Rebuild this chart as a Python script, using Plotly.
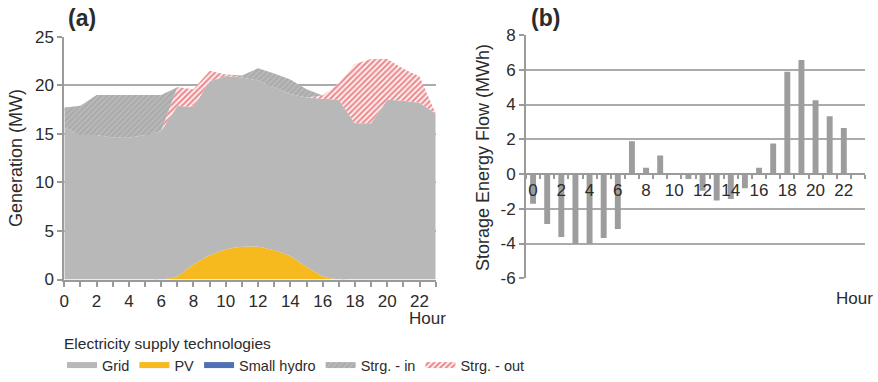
import plotly.graph_objects as go

# ---------------- data ----------------
hours = list(range(24))

# Panel (a): stacked generation (MW)
pv = [0, 0, 0, 0, 0, 0, 0, 0.34, 1.55, 2.5, 3.1, 3.37,
      3.37, 3.0, 2.4, 1.3, 0.34, 0, 0, 0, 0, 0, 0, 0]
grid = [15.66, 14.87, 14.87, 14.6, 14.6, 14.87, 15.3, 17.52, 16.25, 17.9, 17.85, 17.43,
        17.13, 16.8, 16.7, 17.45, 18.26, 18.5, 16.1, 16.1, 18.5, 18.4, 18.2, 17.1]
small_hydro = [0] * 24
strg_in = [2.04, 3.03, 4.13, 4.4, 4.4, 4.13, 3.7, 0, 0, 0, 0, 0.2,
           1.25, 1.4, 1.5, 0.85, 0, 0, 0, 0, 0, 0, 0, 0]
strg_out = [0, 0, 0, 0, 0, 0, 0, 1.94, 1.8, 1.1, 0.15, 0,
            0, 0, 0, 0, 0.35, 1.7, 6.1, 6.6, 4.2, 3.3, 2.7, 0]

# Panel (b): storage energy flow (MWh)
flow = [-1.71, -2.88, -3.62, -4.03, -4.03, -3.68, -3.16, 1.88, 0.36, 1.07, 0, -0.29,
        -0.96, -1.53, -1.44, -0.82, 0.36, 1.75, 5.89, 6.56, 4.24, 3.32, 2.65, 0]

xa_ticks = [0, 2, 4, 6, 8, 10, 12, 14, 16, 18, 20, 22]
ya_ticks = [0, 5, 10, 15, 20, 25]
yb_ticks = [-6, -4, -2, 0, 2, 4, 6, 8]
yb_labels = ["-6", "-4", "-2", "0", "2", "4", "6", "8"]

# ---------------- style ----------------
FONT = "Liberation Sans, Arial, sans-serif"
TXT = "#2b2b2b"
AX = "#9a9a9a"
GRIDC = "#ababab"
C_GRID = "#b8b8b8"
C_PV = "#f6ba1e"
C_HYDRO = "#4f70b6"
C_BAR = "#9d9d9d"
TICK_FS = 17

fig = go.Figure()

fig.add_trace(go.Scatter(x=hours, y=pv, name="PV", stackgroup="a", mode="none",
                         line=dict(shape="spline", smoothing=0.6),
                         fillcolor=C_PV, legendrank=2))
fig.add_trace(go.Scatter(x=hours, y=grid, name="Grid", stackgroup="a", mode="none",
                         fillcolor=C_GRID, legendrank=1))
fig.add_trace(go.Scatter(x=hours, y=small_hydro, name="Small hydro", stackgroup="a",
                         mode="none", fillcolor=C_HYDRO, legendrank=3))
fig.add_trace(go.Scatter(x=hours, y=strg_out, name="Strg. - out", stackgroup="a",
                         mode="none", fillcolor="white",
                         fillpattern=dict(shape="/", fgcolor="#dd1f26", bgcolor="white",
                                          size=4, solidity=0.62),
                         legendrank=5))
fig.add_trace(go.Scatter(x=hours, y=strg_in, name="Strg. - in", stackgroup="a",
                         mode="none", fillcolor=C_GRID,
                         fillpattern=dict(shape="/", fgcolor="#999999", bgcolor=C_GRID,
                                          size=4, solidity=0.45),
                         legendrank=4))

fig.add_trace(go.Bar(x=hours, y=flow, xaxis="x2", yaxis="y2", marker_color=C_BAR,
                     marker_line_width=0, width=0.42, showlegend=False))

W, H = 878, 382


def px_x(p):
    return p / W


def px_y(p):
    return 1 - p / H


fig.update_layout(
    width=W, height=H,
    margin=dict(l=0, r=0, t=0, b=0, autoexpand=False),
    paper_bgcolor="white", plot_bgcolor="white",
    font=dict(family=FONT, size=15, color=TXT),
    showlegend=True,
    legend=dict(orientation="h", x=px_x(62), y=px_y(329), xanchor="left", yanchor="top",
                title=dict(text="Electricity supply technologies", side="top",
                           font=dict(size=15.5, color=TXT)),
                font=dict(size=14.5, color=TXT), traceorder="normal",
                itemwidth=30, tracegroupgap=0, bgcolor="rgba(0,0,0,0)"),
    xaxis=dict(domain=[px_x(64.3), px_x(435.7)], range=[0, 23], anchor="y",
               automargin=False,
               tickmode="array", tickvals=xa_ticks, ticks="outside", ticklen=5,
               tickcolor=AX, tickwidth=2,
               minor=dict(ticks="outside", tick0=0, dtick=1, ticklen=5, tickcolor=AX,
                          tickwidth=2, showgrid=False),
               showline=True, linecolor=AX, linewidth=2, showgrid=False, zeroline=False,
               tickfont=dict(size=TICK_FS, color=TXT)),
    yaxis=dict(domain=[px_y(279.5), px_y(36.7)], range=[0, 25], anchor="x",
               automargin=False,
               tickmode="array", tickvals=ya_ticks, ticks="outside", ticklen=5,
               tickcolor=AX, tickwidth=2,
               showline=True, linecolor=AX, linewidth=2, showgrid=True, gridcolor=GRIDC,
               gridwidth=2, zeroline=False, tickfont=dict(size=TICK_FS, color=TXT)),
    xaxis2=dict(domain=[px_x(526), px_x(865)], range=[-0.5, 23.5], anchor="free",
                position=px_y(174.3), automargin=False,
                tickmode="array", tickvals=xa_ticks, ticks="",
                minor=dict(ticks="outside", tick0=0.5, dtick=1, ticklen=4, tickcolor=AX,
                           tickwidth=2, showgrid=False),
                showline=True, linecolor=AX, linewidth=2, showgrid=False, zeroline=False,
                tickfont=dict(size=TICK_FS, color=TXT)),
    yaxis2=dict(domain=[px_y(278.3), px_y(35)], range=[-6, 8], anchor="x2",
                automargin=False,
                tickmode="array", tickvals=yb_ticks, ticktext=yb_labels,
                ticks="outside", ticklen=5, tickcolor=AX, tickwidth=2,
                showline=True, linecolor=AX, linewidth=2, showgrid=True, gridcolor=GRIDC,
                gridwidth=2, zeroline=False, tickfont=dict(size=TICK_FS, color=TXT)),
)

annos = [
    dict(text="<b>(a)</b>", x=px_x(66), y=px_y(18), xanchor="left", yanchor="middle",
         font=dict(size=23)),
    dict(text="<b>(b)</b>", x=px_x(529), y=px_y(18), xanchor="left", yanchor="middle",
         font=dict(size=23)),
    dict(text="Generation (MW)", x=px_x(16), y=px_y(158), textangle=-90,
         xanchor="center", yanchor="middle", font=dict(size=18)),
    dict(text="Storage Energy Flow (MWh)", x=px_x(483), y=px_y(157), textangle=-90,
         xanchor="center", yanchor="middle", font=dict(size=18)),
    dict(text="Hour", x=px_x(448), y=px_y(318), xanchor="right", yanchor="middle",
         font=dict(size=17)),
    dict(text="Hour", x=px_x(875), y=px_y(298), xanchor="right", yanchor="middle",
         font=dict(size=17)),
]
for a in annos:
    a.update(xref="paper", yref="paper", showarrow=False)
fig.update_layout(annotations=annos)

fig.write_html("out.html")
